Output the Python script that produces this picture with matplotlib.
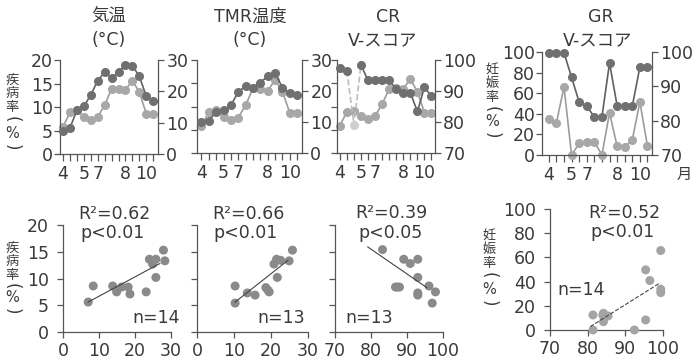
import numpy as np
import matplotlib.pyplot as plt

plt.rcParams['font.family'] = ['DejaVu Sans', 'Noto Sans CJK JP']

# ---- top row: time series (14 half-month points, Apr - Oct)
month_pos = [0, 3, 5, 9, 12]
month_lab = ['4', '5', '7', '8', '10']

# disease rate (%) and the matching variable
air_dis = [5.8, 8.9, 9.3, 7.9, 7.3, 7.9, 10.4, 13.9, 13.9, 13.7, 15.6, 13.2, 8.6, 8.6]
air_temp = [7.4, 8.4, 14.0, 15.2, 18.9, 23.4, 26.1, 24.3, 26.1, 28.5, 28.2, 24.8, 18.5, 17.0]

tmr_dis = [5.8, 8.8, 9.2, 7.8, 7.2, 7.6, 10.3, 13.9, 13.7, 13.4, 15.7, 13.2, 8.6, 8.6]
tmr_temp = [10.0, 10.4, 13.3, 13.8, 15.4, 19.7, 21.6, 21.1, 22.7, 24.8, 25.7, 21.1, 19.4, 18.7]

cr_dis = [5.8, 8.9, 9.1, 8.0, 7.4, 8.0, 10.5, 13.8, 14.0, 13.8, 15.9, 13.2, 8.7, 8.7]
cr_v = [97.5, 96.6, 79.1, 98.4, 93.4, 93.4, 93.4, 93.4, 90.6, 89.5, 89.5, 83.4, 91.2, 88.4]
cr_outlier = 2

gr_preg = [34.5, 31.3, 66.0, 0.0, 11.3, 12.9, 12.9, 0.0, 41.0, 8.7, 8.0, 14.5, 51.6, 8.7]
gr_v = [99.8, 99.8, 99.8, 92.6, 85.4, 84.2, 81.1, 81.1, 96.8, 84.4, 84.2, 84.2, 95.6, 95.6]

# ---- bottom row: scatter vs disease / pregnancy rate
s_air_x = [7.0, 8.4, 13.8, 14.9, 16.3, 18.1, 18.6, 23.1, 24.0, 24.9, 25.8, 25.8, 27.9, 28.3]
s_air_y = [5.6, 8.6, 8.6, 7.5, 8.4, 8.4, 7.1, 7.5, 13.6, 12.7, 13.6, 10.2, 15.3, 13.3]
fit_air = ([7.0, 26.9], [5.6, 12.8])

s_tmr_x = [10.3, 10.3, 13.6, 15.7, 18.6, 19.2, 19.5, 20.8, 21.5, 22.6, 21.7, 24.9, 25.8]
s_tmr_y = [8.6, 5.4, 7.3, 6.9, 8.3, 7.8, 7.5, 12.7, 13.6, 13.4, 10.2, 13.3, 15.3]
fit_tmr = ([10.3, 24.6], [5.6, 13.4])

s_cr_x = [83.2, 89.1, 90.9, 93.0, 93.0, 86.8, 87.9, 93.0, 93.0, 96.1, 97.9, 97.0, 87.3]
s_cr_y = [15.4, 13.6, 12.8, 13.6, 10.2, 8.4, 8.4, 7.3, 6.9, 8.6, 7.5, 5.4, 8.4]
fit_cr = ([79.1, 95.5], [15.9, 8.3])

s_gr_x = [81.4, 81.4, 84.2, 84.2, 84.2, 85.4, 92.4, 95.4, 95.4, 96.5, 99.4, 99.4, 99.4, 84.0]
s_gr_y = [0.0, 12.4, 13.8, 6.9, 12.0, 11.6, 0.0, 49.7, 8.3, 40.9, 65.7, 33.7, 30.9, 12.5]
fit_gr = ([80.7, 99.1], [2.8, 38.7])

W, H = 692, 364
INK = '#3a3a3a'
AXC = '#555555'
DARK = '#707070'
DARK_LN = '#606060'
LIGHT = '#a8a8a8'
LIGHT_LN = '#9c9c9c'
PALE = '#cfcfcf'
FS = 12.5

fig = plt.figure(figsize=(W / 100, H / 100), dpi=100)


def box(l, r, t, b):
    return [l / W, 1 - b / H, (r - l) / W, (b - t) / H]


def put(x, y, s, **kw):
    kw.setdefault('fontsize', FS)
    fig.text(x / W, 1 - y / H, s, color=INK, **kw)


def tidy(ax):
    for sp in ax.spines.values():
        sp.set_color(AXC)
        sp.set_linewidth(0.9)
    ax.tick_params(colors=AXC, labelcolor=INK, labelsize=FS, width=0.9, direction='out')
    ax.set_facecolor('none')


def time_panel(rect, xlim, left_vals, left_lim, left_ticks, left_lab,
               right_vals, right_lim, right_ticks, right_lab=True):
    ax = fig.add_axes(rect)
    ax2 = ax.twinx()
    for a in (ax, ax2):
        tidy(a)
        a.spines['top'].set_visible(False)
    ax.spines['right'].set_visible(False)
    ax2.spines['left'].set_visible(False)
    ax2.spines['bottom'].set_visible(False)

    n = len(left_vals)
    x = np.arange(n)
    ax.set_xlim(*xlim)
    ax.set_xticks(x)
    lab = [''] * n
    for p, m in zip(month_pos, month_lab):
        lab[p] = m
    ax.set_xticklabels(lab)
    ax.tick_params(axis='x', length=5, pad=3)

    ax.set_ylim(*left_lim)
    ax.set_yticks(left_ticks)
    ax.tick_params(axis='y', length=4, pad=1)
    if not left_lab:
        ax.set_yticklabels([])
    ax2.set_ylim(*right_lim)
    ax2.set_yticks(right_ticks)
    ax2.tick_params(axis='y', length=4, pad=2)
    if not right_lab:
        ax2.set_yticklabels([])

    ax.plot(x, left_vals, '-o', color=LIGHT_LN, mfc=LIGHT, mec=LIGHT,
            ms=5.5, lw=1.2, clip_on=False)
    return ax, ax2, x


def scatter_panel(rect, xs, ys, xlim, xticks, ylim, yticks, left_lab, fit,
                  dashed=False, pt='#8a8a8a'):
    ax = fig.add_axes(rect)
    tidy(ax)
    ax.spines['top'].set_visible(False)
    ax.spines['right'].set_visible(False)
    ax.set_xlim(*xlim)
    ax.set_ylim(*ylim)
    ax.set_xticks(xticks)
    ax.set_yticks(yticks)
    ax.tick_params(axis='x', length=4, pad=3)
    ax.tick_params(axis='y', length=4, pad=6)
    if not left_lab:
        ax.set_yticklabels([])
    ax.scatter(xs, ys, s=42, color=pt, edgecolors='none', clip_on=False, zorder=3)
    ax.plot(fit[0], fit[1], color='#444444', lw=0.8, ls='--' if dashed else '-',
            zorder=4)
    return ax


def vlabel(x, ys, word):
    # stacked vertical title: three kanji, then "(%)" with the brackets turned
    for ch, y in zip(word, ys[:3]):
        put(x, y, ch, ha='center', va='center', fontsize=9.5)
    put(x, ys[3], '(', ha='center', va='center', rotation=-90, fontsize=12)
    put(x, ys[4], '%', ha='center', va='center', fontsize=10.5)
    put(x, ys[5], ')', ha='center', va='center', rotation=-90, fontsize=12)


# top row
a1, b1, x = time_panel(box(60, 158, 60, 154), (-0.45, 13.7), air_dis, (0, 20),
                       [0, 5, 10, 15, 20], True, air_temp, (0, 30), [0, 10, 20, 30])
b1.plot(x, air_temp, '-o', color=DARK_LN, mfc=DARK, mec=DARK, ms=5.5, lw=1.2, clip_on=False)

a2, b2, x = time_panel(box(197, 302, 60, 153), (-0.6, 13.65), tmr_dis, (0, 20),
                       [0, 5, 10, 15, 20], False, tmr_temp, (0, 30), [0, 10, 20, 30])
b2.plot(x, tmr_temp, '-o', color=DARK_LN, mfc=DARK, mec=DARK, ms=5.5, lw=1.2, clip_on=False)

a3, b3, x = time_panel(box(337, 435, 60, 153), (-0.4, 13.5), cr_dis, (0, 20),
                       [0, 5, 10, 15, 20], False, cr_v, (70, 100), [70, 80, 90, 100])
cr_arr = np.array(cr_v, dtype=float)
solid = cr_arr.copy()
solid[cr_outlier] = np.nan
seg = slice(cr_outlier - 1, cr_outlier + 2)
b3.plot(x[seg], cr_arr[seg], '--', color='#bdbdbd', lw=1.2)
b3.plot(x, solid, '-o', color=DARK_LN, mfc=DARK, mec=DARK, ms=5.5, lw=1.2, clip_on=False)
b3.plot(x[cr_outlier], cr_arr[cr_outlier], 'o', color=PALE, ms=5.5)

a4, b4, x = time_panel(box(542, 652, 52, 155), (-0.9, 13.6), gr_preg, (0, 100),
                       [0, 20, 40, 60, 80, 100], True, gr_v, (70, 100), [70, 80, 90, 100])
b4.plot(x, gr_v, '-o', color=DARK_LN, mfc=DARK, mec=DARK, ms=5.5, lw=1.2, clip_on=False)

# bottom row
scatter_panel(box(63, 171, 225, 332), s_air_x, s_air_y, (0, 30), [0, 10, 20, 30],
              (0, 20), [0, 5, 10, 15, 20], True, fit_air)
scatter_panel(box(197, 308, 225, 332), s_tmr_x, s_tmr_y, (0, 30), [0, 10, 20, 30],
              (0, 20), [0, 5, 10, 15, 20], False, fit_tmr)
scatter_panel(box(335, 443, 225, 332), s_cr_x, s_cr_y, (70, 100), [70, 80, 90, 100],
              (0, 20), [0, 5, 10, 15, 20], False, fit_cr)
scatter_panel(box(550, 663, 209, 330), s_gr_x, s_gr_y, (70, 100), [70, 80, 90, 100],
              (0, 100), [0, 20, 40, 60, 80, 100], True, fit_gr, dashed=True, pt='#a4a4a4')

# headings
put(109, 17, '気温', ha='center', va='center')
put(109, 40, '(°C)', ha='center', va='center')
put(250, 17, 'TMR温度', ha='center', va='center')
put(250, 40, '(°C)', ha='center', va='center')
put(388, 17, 'CR', ha='center', va='center')
put(383, 40, 'V-スコア', ha='center', va='center')
put(601, 17, 'GR', ha='center', va='center')
put(598, 40, 'V-スコア', ha='center', va='center')
put(684, 174, '月', ha='center', va='center', fontsize=11)

# vertical axis titles
vlabel(12, [80, 93.5, 107, 119, 133, 147], '疾病率')
vlabel(12, [248, 261.5, 275, 286, 298, 311], '疾病率')
vlabel(492, [70, 83.5, 97, 109, 122, 135], '妊娠率')
vlabel(489, [236, 249.5, 263, 275, 289, 303], '妊娠率')

# statistics
put(78, 214, 'R²=0.62', va='center')
put(80, 233, 'p<0.01', va='center')
put(132, 318, 'n=14', va='center')
put(212, 214, 'R²=0.66', va='center')
put(213, 233, 'p<0.01', va='center')
put(257, 318, 'n=13', va='center')
put(355, 213, 'R²=0.39', va='center')
put(358, 233, 'p<0.05', va='center')
put(345, 318, 'n=13', va='center')
put(588, 213, 'R²=0.52', va='center')
put(590, 232, 'p<0.01', va='center')
put(557, 290, 'n=14', va='center')

fig.savefig('out.png', dpi=100)
